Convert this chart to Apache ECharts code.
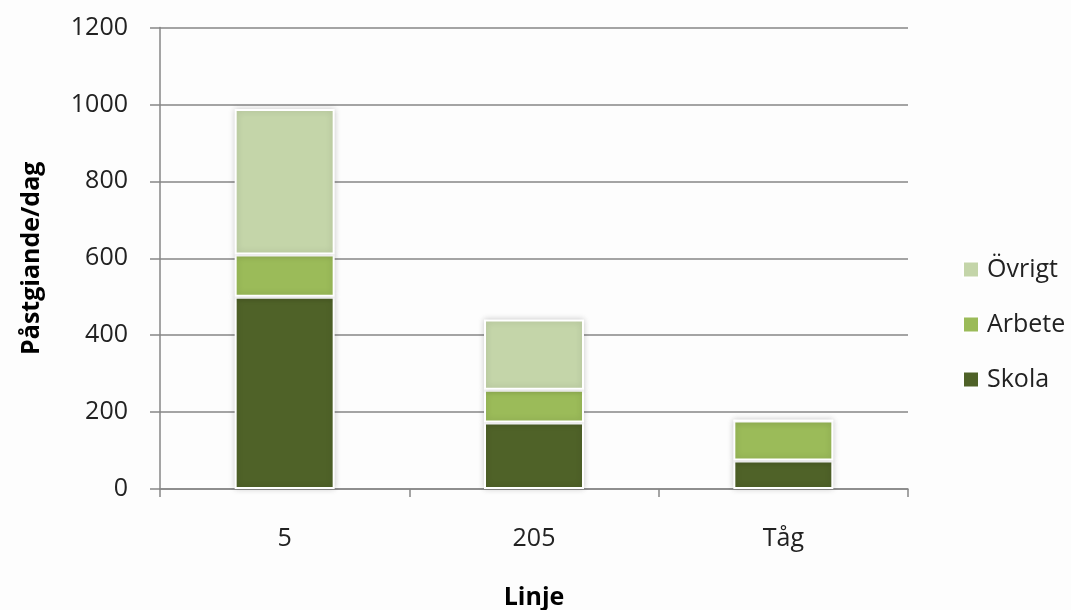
<!DOCTYPE html>
<html>
<head>
<meta charset="utf-8">
<script src="https://cdn.jsdelivr.net/npm/echarts@6/dist/echarts.min.js"></script>
<style>
html,body{margin:0;padding:0;background:#fdfdfd;}
#chart{width:1071px;height:610px;}
</style>
</head>
<body>
<div id="chart"></div>
<script>
const categories = ['5', '205', 'Tåg'];
const skola = [500, 173, 74];
const arbete = [110, 85, 104];
const ovrigt = [378, 183, 0];
const yTicks = [0, 200, 400, 600, 800, 1000, 1200];

const font = '"Open Sans", "Liberation Sans", sans-serif';
const chart = echarts.init(document.getElementById('chart'), null, {renderer: 'canvas'});
const barStyle = (color) => ({
  color: color,
  borderColor: '#ffffff',
  borderWidth: 2,
  shadowColor: 'rgba(0,0,0,0.18)',
  shadowBlur: 6,
  shadowOffsetX: 0,
  shadowOffsetY: 0
});
chart.setOption({
  backgroundColor: '#fdfdfd',
  animation: false,
  grid: {left: 160, right: 163, top: 27.5, bottom: 121, containLabel: false, outerBoundsMode: 'none'},
  legend: {
    orient: 'vertical',
    left: 957,
    top: 251,
    itemWidth: 16,
    itemHeight: 16,
    itemGap: 28,
    icon: 'rect',
    data: ['Övrigt', 'Arbete', 'Skola'],
    textStyle: {fontFamily: font, fontSize: 25, color: '#222', lineHeight: 27, padding: [0, 0, 0, 3]}
  },
  xAxis: {
    type: 'category',
    data: categories,
    name: 'Linje',
    nameLocation: 'middle',
    nameGap: 96,
    nameTextStyle: {fontFamily: font, fontSize: 25, fontWeight: 'bold', color: '#000'},
    axisLine: {lineStyle: {color: '#868686', width: 1.5}},
    axisTick: {show: true, length: 8, lineStyle: {color: '#868686', width: 1.5}},
    axisLabel: {fontFamily: font, fontSize: 25, color: '#222', margin: 37}
  },
  yAxis: {
    type: 'value',
    min: 0,
    max: 1200,
    interval: 200,
    name: 'Påstgiande/dag',
    nameLocation: 'middle',
    nameRotate: 90,
    nameGap: 116,
    nameTextStyle: {fontFamily: font, fontSize: 25, fontWeight: 'bold', color: '#000'},
    axisLine: {show: true, lineStyle: {color: '#868686', width: 1.5}},
    axisTick: {show: true, length: 10, lineStyle: {color: '#868686', width: 1.5}},
    axisLabel: {fontFamily: font, fontSize: 25, color: '#222', margin: 32,
      formatter: (v) => yTicks.includes(v) ? String(v) : ''},
    splitLine: {show: true, lineStyle: {color: '#868686', width: 1.5}}
  },
  series: [
    {name: 'Skola', type: 'bar', stack: 'a', data: skola, barWidth: 100, itemStyle: barStyle('#4F6228')},
    {name: 'Arbete', type: 'bar', stack: 'a', data: arbete, barWidth: 100, itemStyle: barStyle('#9BBB59')},
    {name: 'Övrigt', type: 'bar', stack: 'a', data: ovrigt, barWidth: 100, itemStyle: barStyle('#C4D5A9')}
  ]
});
</script>
</body>
</html>
